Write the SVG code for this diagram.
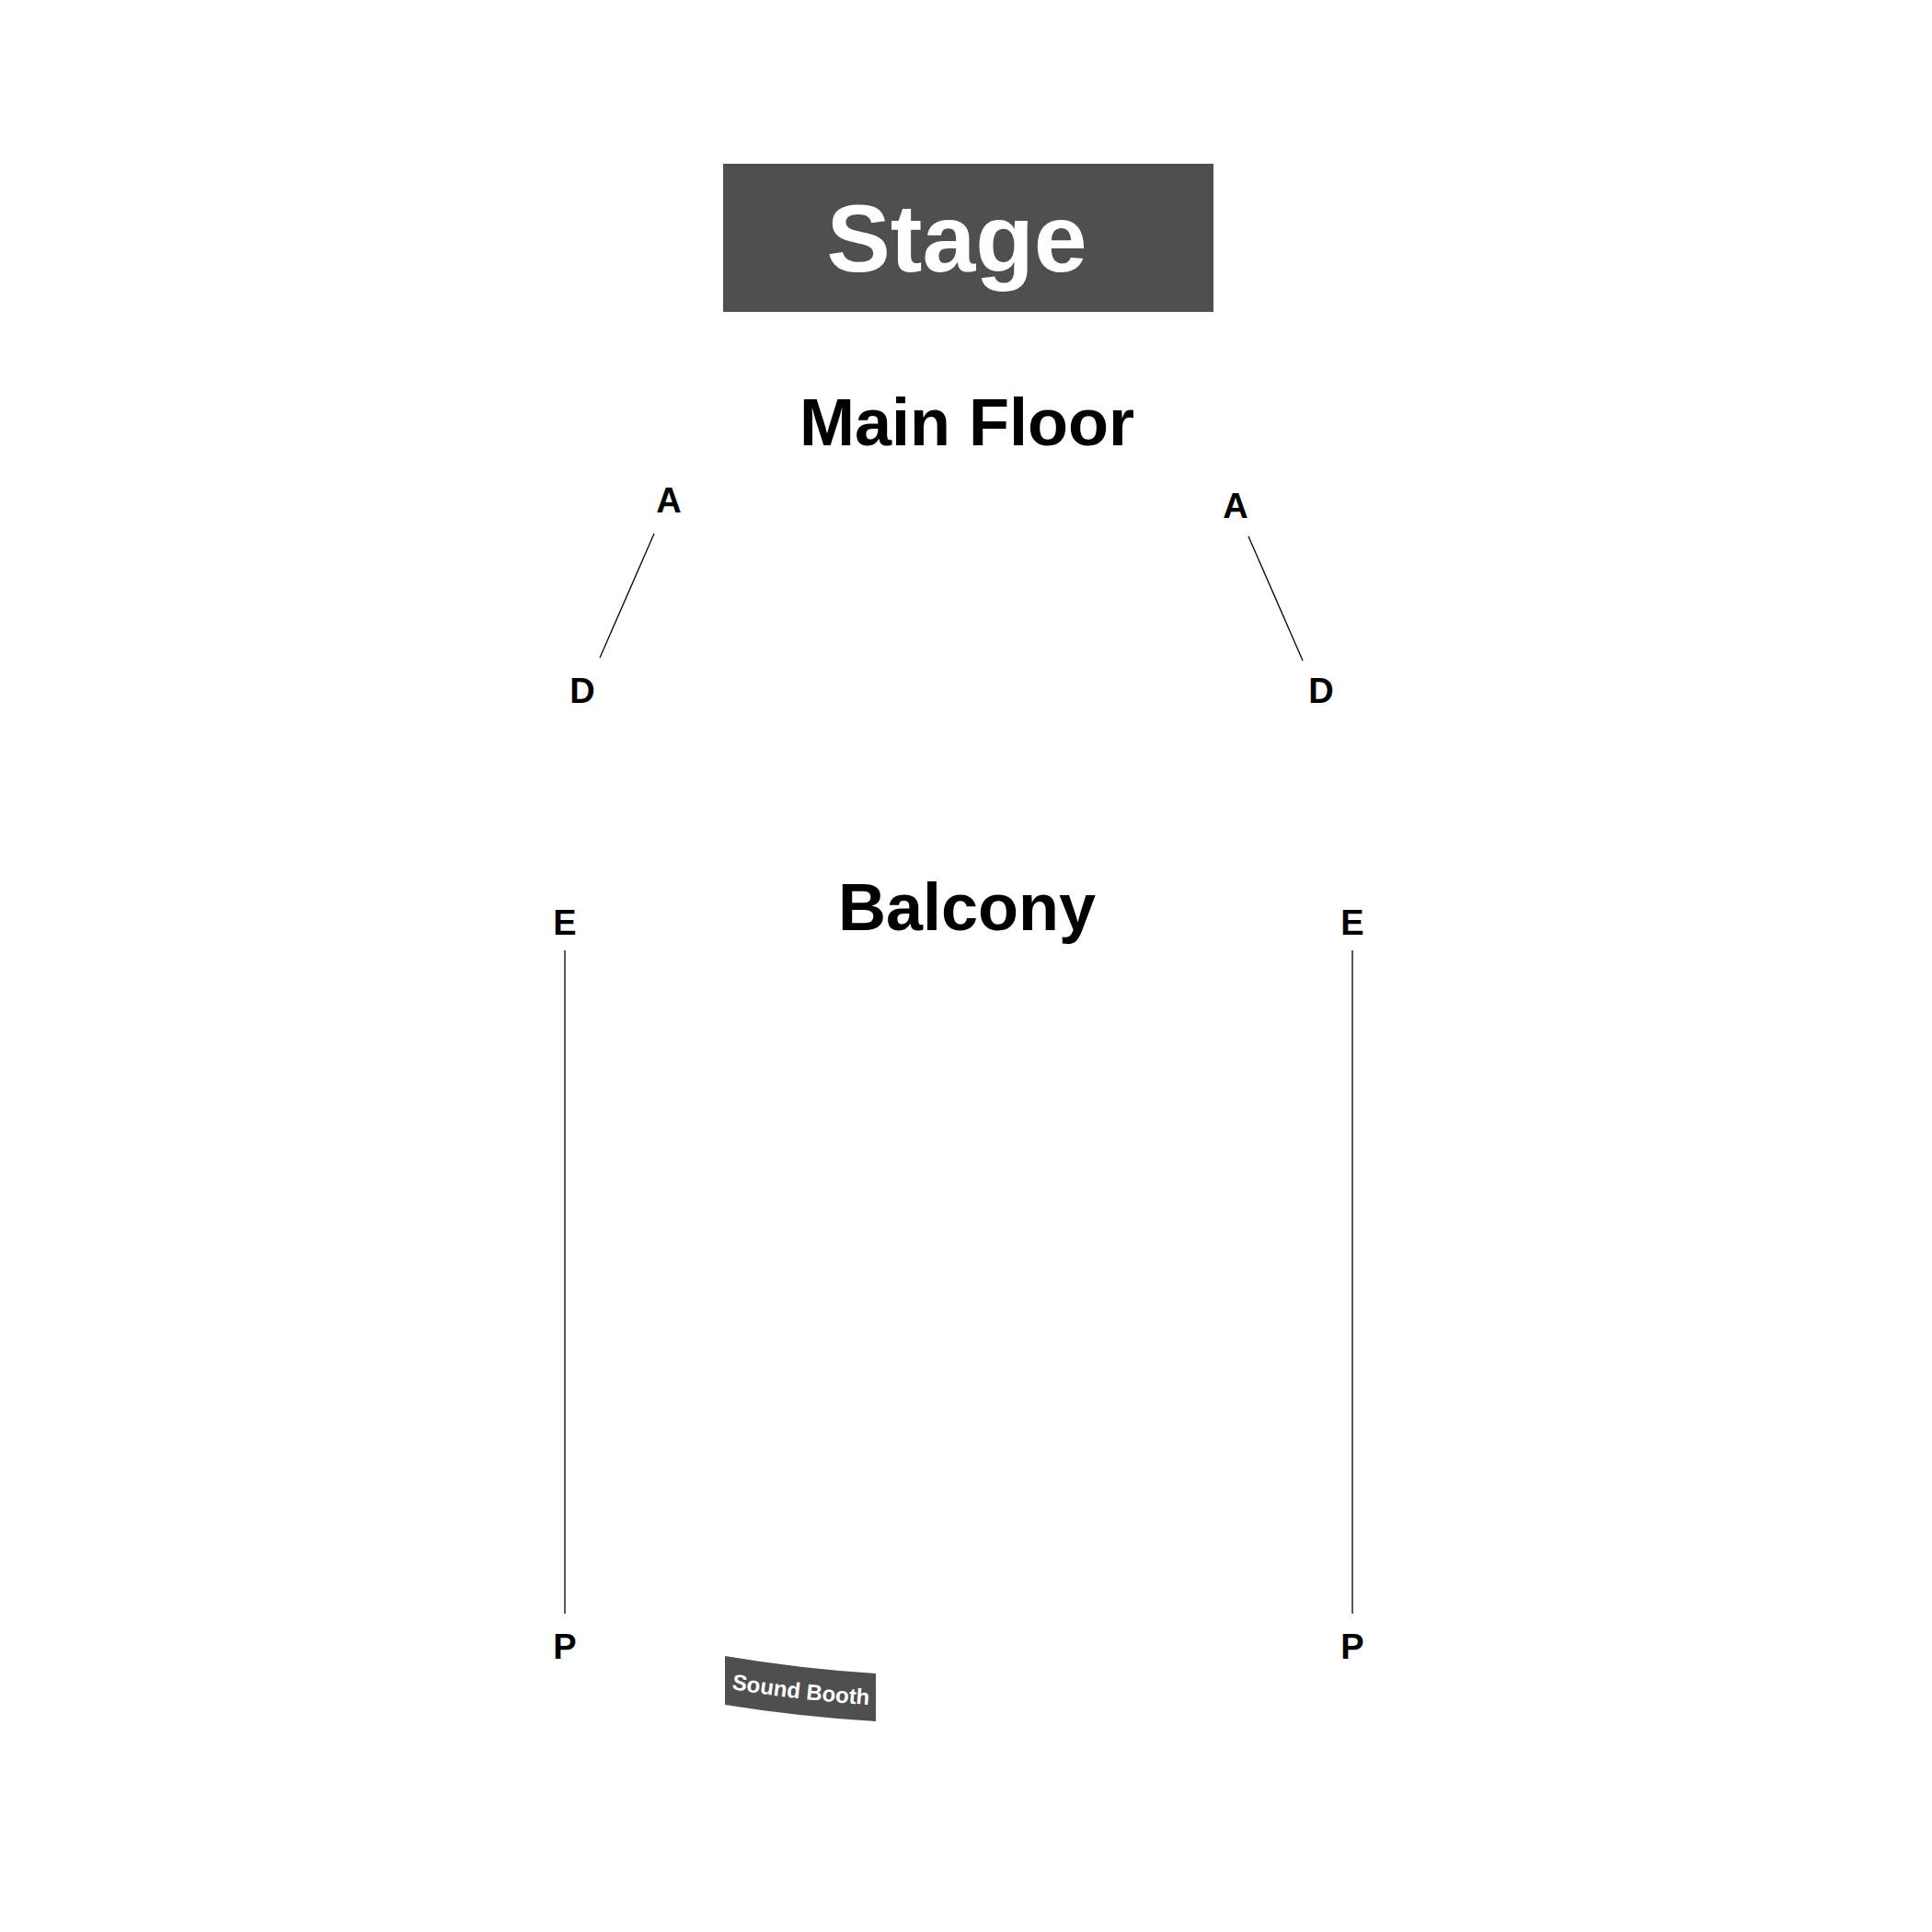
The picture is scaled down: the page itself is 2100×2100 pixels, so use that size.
<svg xmlns="http://www.w3.org/2000/svg" width="2100" height="2100" viewBox="0 0 2100 2100">
<defs>
<style>
.lbl{font-family:"Liberation Sans",Arial,sans-serif;font-weight:bold;fill:#000;text-anchor:middle}
.row{font-size:38px}
.title{font-size:72px}
.conn{stroke:#000;stroke-width:1.3;fill:none}
.dark{fill:#4f4f4f}
</style>
<path id="boothText" d="M780,1833.5 A1600,1600 0 0 0 960,1854"/>
</defs>
<rect width="2100" height="2100" fill="#fff"/>
<g id="stage">
<rect class="dark" x="786" y="178" width="533" height="161"/>
<text class="lbl" x="1040" y="295" style="font-size:104px;fill:#fff">Stage</text>
</g>
<g id="main-floor">
<text class="lbl title" x="1051" y="484">Main Floor</text>
</g>
<g id="balcony">
<text class="lbl title" x="1051" y="1011">Balcony</text>
</g>
<g id="row-A-left"><text class="lbl row" x="727" y="557">A</text></g>
<g id="row-D-left"><text class="lbl row" x="633" y="764">D</text></g>
<g id="row-A-right"><text class="lbl row" x="1343" y="563">A</text></g>
<g id="row-D-right"><text class="lbl row" x="1436" y="764">D</text></g>
<g id="row-E-left"><text class="lbl row" x="614" y="1016">E</text></g>
<g id="row-P-left"><text class="lbl row" x="614" y="1803">P</text></g>
<g id="row-E-right"><text class="lbl row" x="1470" y="1016">E</text></g>
<g id="row-P-right"><text class="lbl row" x="1470" y="1803">P</text></g>
<g id="sound-booth">
<path class="dark" d="M788,1800 A1566,1566 0 0 0 952,1819 L952,1871 A1618,1618 0 0 1 788,1853 Z"/>
<text class="lbl" style="font-size:24px;fill:#fff"><textPath href="#boothText" startOffset="50%">Sound Booth</textPath></text>
</g>
<g id="connectors">
<line class="conn" x1="711" y1="580" x2="652" y2="715"/>
<line class="conn" x1="1357" y1="583" x2="1416" y2="718"/>
<line class="conn" x1="614" y1="1033" x2="614" y2="1754"/>
<line class="conn" x1="1470" y1="1033" x2="1470" y2="1754"/>
</g>
</svg>
